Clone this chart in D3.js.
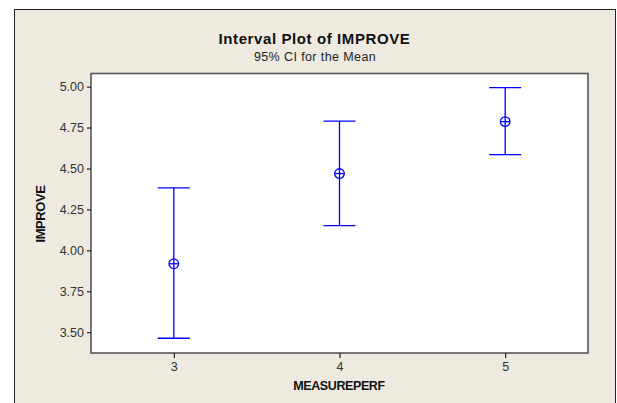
<!DOCTYPE html>
<html>
<head>
<meta charset="utf-8">
<script src="https://cdn.jsdelivr.net/npm/d3@7"></script>
<style>
  body { margin: 0; background: #fff; }
  svg { display: block; font-family: "Liberation Sans", Arial, sans-serif; }
</style>
</head>
<body>
<svg id="chart" width="617" height="403"></svg>
<script>
// values
const groups = [3, 4, 5];
const means  = [3.918, 4.469, 4.786];
const lower  = [3.463, 4.151, 4.585];
const upper  = [4.382, 4.789, 4.994];
const yTicks = [3.50, 3.75, 4.00, 4.25, 4.50, 4.75, 5.00];

const svg = d3.select("#chart");

// outer panel
svg.append("rect")
  .attr("x", 14.5).attr("y", 9.5)
  .attr("width", 601).attr("height", 400)
  .attr("fill", "#eeeae0")
  .attr("stroke", "#222").attr("stroke-width", 1);

const plot = { left: 91, top: 73.5, right: 588, bottom: 353 };

const xs = d3.scaleLinear().domain([2.5, 5.5]).range([plot.left, plot.right]);
const ys = d3.scaleLinear().domain([3.373, 5.08]).range([plot.bottom, plot.top]);

svg.append("rect")
  .attr("x", plot.left).attr("y", plot.top)
  .attr("width", plot.right - plot.left).attr("height", plot.bottom - plot.top)
  .attr("fill", "#fff")
  .attr("stroke", "#555").attr("stroke-width", 1.6);

// axes
const xAxis = svg.append("g")
  .attr("transform", `translate(0,${plot.bottom})`)
  .call(d3.axisBottom(xs).tickValues(groups).tickFormat(d3.format("d")).tickSize(5).tickPadding(4))
xAxis.select(".domain").remove();

const yAxis = svg.append("g")
  .attr("transform", `translate(${plot.left},0)`)
  .call(d3.axisLeft(ys).tickValues(yTicks).tickFormat(d3.format(".2f")).tickSize(4).tickPadding(3))
yAxis.select(".domain").remove();

svg.selectAll(".tick text")
  .attr("font-size", 12.5)
  .attr("font-family", "Liberation Sans, Arial, sans-serif")
  .attr("fill", "#333");
svg.selectAll(".tick line").attr("stroke", "#222").attr("stroke-width", 1.2);

// titles
svg.append("text")
  .attr("x", 314.5).attr("y", 44)
  .attr("text-anchor", "middle")
  .attr("font-size", 15).attr("font-weight", "bold")
  .attr("letter-spacing", "0.6")
  .attr("fill", "#111")
  .text("Interval Plot of IMPROVE");

svg.append("text")
  .attr("x", 315).attr("y", 61)
  .attr("text-anchor", "middle")
  .attr("font-size", 12.5)
  .attr("letter-spacing", "0.4")
  .attr("fill", "#222")
  .text("95% CI for the Mean");

svg.append("text")
  .attr("x", 339).attr("y", 390)
  .attr("text-anchor", "middle")
  .attr("font-size", 12.5).attr("font-weight", "bold")
  .attr("letter-spacing", "-0.4")
  .attr("fill", "#111")
  .text("MEASUREPERF");

svg.append("text")
  .attr("transform", "translate(45,214) rotate(-90)")
  .attr("text-anchor", "middle")
  .attr("font-size", 13).attr("font-weight", "bold")
  .attr("letter-spacing", "-0.4")
  .attr("fill", "#111")
  .text("IMPROVE");

// intervals
const data = groups.map((g, i) => ({ g, mean: means[i], lo: lower[i], hi: upper[i] }));
const blue = "#0000ff";
const cap = 16;
const sw = 1.3;

const iv = svg.append("g").selectAll("g").data(data).join("g");

iv.append("line")
  .attr("x1", d => xs(d.g)).attr("x2", d => xs(d.g))
  .attr("y1", d => ys(d.lo)).attr("y2", d => ys(d.hi))
  .attr("stroke", blue).attr("stroke-width", sw);

iv.append("line")
  .attr("x1", d => xs(d.g) - cap).attr("x2", d => xs(d.g) + cap)
  .attr("y1", d => ys(d.hi)).attr("y2", d => ys(d.hi))
  .attr("stroke", blue).attr("stroke-width", sw);

iv.append("line")
  .attr("x1", d => xs(d.g) - cap).attr("x2", d => xs(d.g) + cap)
  .attr("y1", d => ys(d.lo)).attr("y2", d => ys(d.lo))
  .attr("stroke", blue).attr("stroke-width", sw);

iv.append("circle")
  .attr("cx", d => xs(d.g)).attr("cy", d => ys(d.mean))
  .attr("r", 4.8)
  .attr("fill", "none")
  .attr("stroke", blue).attr("stroke-width", sw);

iv.append("line")
  .attr("x1", d => xs(d.g) - 4.8).attr("x2", d => xs(d.g) + 4.8)
  .attr("y1", d => ys(d.mean)).attr("y2", d => ys(d.mean))
  .attr("stroke", blue).attr("stroke-width", sw);
</script>
</body>
</html>
